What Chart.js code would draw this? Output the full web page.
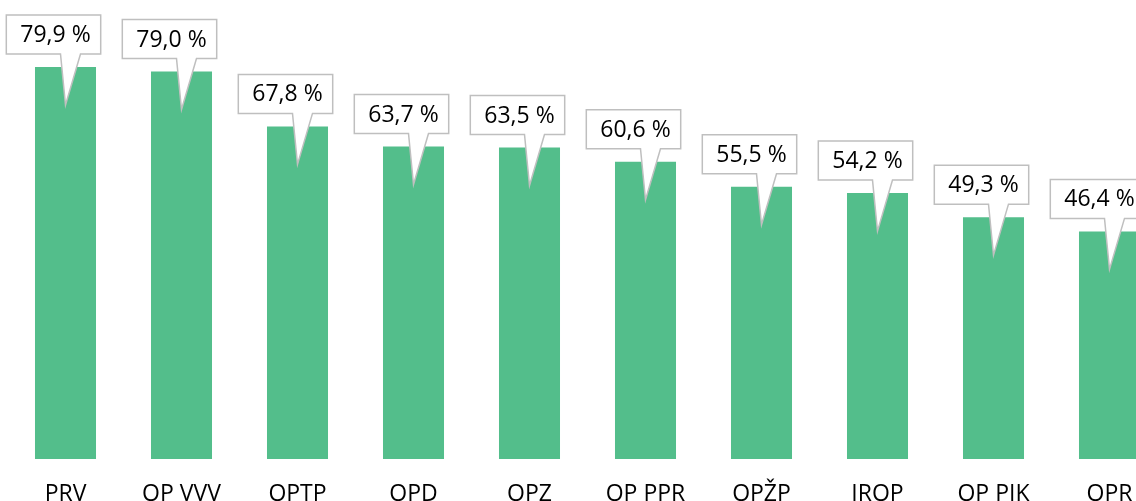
<!DOCTYPE html>
<html>
<head>
<meta charset="utf-8">
<script src="https://cdn.jsdelivr.net/npm/chart.js@4"></script>
<style>
  html, body { margin: 0; padding: 0; background: #fff; overflow: hidden; }
  #wrap { position: relative; width: 1176px; height: 501px; }
</style>
</head>
<body>
<div id="wrap"><canvas id="chart-bar"></canvas></div>
<script>
// programme names and their share (%)
const programmes = ["PRV", "OP VVV", "OPTP", "OPD", "OPZ", "OP PPR", "OPŽP", "IROP", "OP PIK", "OPR"];
const shares = [79.9, 79.0, 67.8, 63.7, 63.5, 60.6, 55.5, 54.2, 49.3, 46.4];
const yMin = 0;
const yMax = 90;

// callout boxes above each bar, with a pointer dropping into the bar
const calloutLabels = {
  id: "calloutLabels",
  afterDatasetsDraw(chart) {
    const ctx = chart.ctx;
    const meta = chart.getDatasetMeta(0);
    ctx.save();
    ctx.font = '23px "Open Sans"';
    meta.data.forEach((bar, i) => {
      const text = shares[i].toFixed(1).replace(".", ",") + " %";
      const w = ctx.measureText(text).width + 24;
      const h = 39;
      const cx = bar.x - 12;
      const bottom = bar.y - 13;
      const top = bottom - h;
      const left = cx - w / 2;
      const right = cx + w / 2;

      ctx.beginPath();
      ctx.moveTo(left, top);
      ctx.lineTo(right, top);
      ctx.lineTo(right, bottom);
      ctx.lineTo(bar.x + 15, bottom);
      ctx.lineTo(bar.x, bar.y + 38);
      ctx.lineTo(bar.x - 5, bottom);
      ctx.lineTo(left, bottom);
      ctx.closePath();
      ctx.fillStyle = "#fff";
      ctx.fill();
      ctx.strokeStyle = "#bfbfbf";
      ctx.lineWidth = 1.5;
      ctx.lineJoin = "miter";
      ctx.stroke();

      ctx.fillStyle = "#000";
      ctx.textAlign = "center";
      ctx.textBaseline = "middle";
      ctx.fillText(text, cx + 2, top + h / 2 + 1);
    });
    ctx.restore();
  }
};

new Chart(document.getElementById("chart-bar"), {
  type: "bar",
  data: {
    labels: programmes,
    datasets: [{
      data: shares,
      backgroundColor: "#53be8b",
      borderWidth: 0,
      barPercentage: 0.526,
      categoryPercentage: 1
    }]
  },
  options: {
    responsive: true,
    maintainAspectRatio: false,
    animation: false,
    layout: { padding: { left: 7.5, right: 8.5, top: 17.5, bottom: 0 } },
    scales: {
      y: { display: false, min: yMin, max: yMax },
      x: {
        grid: { display: false },
        border: { display: false },
        ticks: {
          color: "#000",
          padding: 14,
          maxRotation: 0,
          autoSkip: false,
          font: { family: '"Open Sans"', size: 23 }
        },
        afterFit(scale) { scale.height = 42; }
      }
    },
    plugins: {
      legend: { display: false },
      tooltip: { enabled: false }
    }
  },
  plugins: [calloutLabels]
});
</script>
</body>
</html>
